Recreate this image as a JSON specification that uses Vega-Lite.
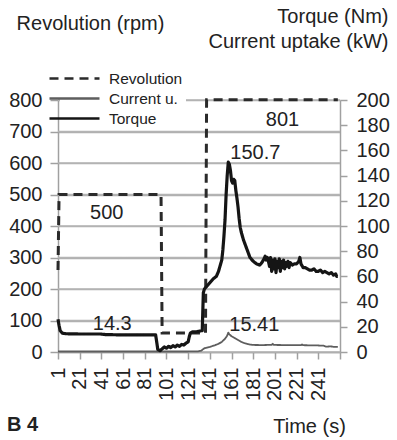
{
  "$schema": "https://vega.github.io/schema/vega-lite/v6.json",
  "width": 282,
  "height": 252,
  "autosize": "none",
  "padding": {"left": 58, "top": 100, "right": 57, "bottom": 88},
  "title": {"text": "B 4", "orient": "bottom", "anchor": "start", "frame": "group", "fontSize": 20, "fontWeight": "bold", "color": "#222", "dx": -51, "dy": -25},
  "datasets": {
    "series": [
      {"t": 1, "v": 260, "s": "Revolution"},
      {"t": 2, "v": 500, "s": "Revolution"},
      {"t": 96, "v": 500, "s": "Revolution"},
      {"t": 97, "v": 60, "s": "Revolution"},
      {"t": 137, "v": 60, "s": "Revolution"},
      {"t": 138, "v": 801, "s": "Revolution"},
      {"t": 259, "v": 801, "s": "Revolution"},

      {"t": 1, "v": 26, "s": "Torque"},
      {"t": 2, "v": 21, "s": "Torque"},
      {"t": 3, "v": 17, "s": "Torque"},
      {"t": 5, "v": 15, "s": "Torque"},
      {"t": 8, "v": 14.5, "s": "Torque"},
      {"t": 20, "v": 14.3, "s": "Torque"},
      {"t": 40, "v": 14.3, "s": "Torque"},
      {"t": 45, "v": 13.8, "s": "Torque"},
      {"t": 60, "v": 13.6, "s": "Torque"},
      {"t": 80, "v": 13.6, "s": "Torque"},
      {"t": 91, "v": 13.6, "s": "Torque"},
      {"t": 92, "v": 8, "s": "Torque"},
      {"t": 93, "v": 2, "s": "Torque"},
      {"t": 95, "v": 1, "s": "Torque"},
      {"t": 97, "v": 2.5, "s": "Torque"},
      {"t": 99, "v": 4, "s": "Torque"},
      {"t": 101, "v": 3, "s": "Torque"},
      {"t": 103, "v": 4.5, "s": "Torque"},
      {"t": 105, "v": 3.5, "s": "Torque"},
      {"t": 107, "v": 5, "s": "Torque"},
      {"t": 109, "v": 4, "s": "Torque"},
      {"t": 111, "v": 5.5, "s": "Torque"},
      {"t": 113, "v": 4.5, "s": "Torque"},
      {"t": 115, "v": 6, "s": "Torque"},
      {"t": 117, "v": 5.5, "s": "Torque"},
      {"t": 119, "v": 7, "s": "Torque"},
      {"t": 121, "v": 8, "s": "Torque"},
      {"t": 122, "v": 12, "s": "Torque"},
      {"t": 123, "v": 15, "s": "Torque"},
      {"t": 125, "v": 16, "s": "Torque"},
      {"t": 128, "v": 16, "s": "Torque"},
      {"t": 131, "v": 16.5, "s": "Torque"},
      {"t": 134, "v": 17, "s": "Torque"},
      {"t": 135, "v": 47, "s": "Torque"},
      {"t": 136, "v": 50, "s": "Torque"},
      {"t": 138, "v": 52, "s": "Torque"},
      {"t": 141, "v": 55, "s": "Torque"},
      {"t": 144, "v": 58, "s": "Torque"},
      {"t": 147, "v": 60, "s": "Torque"},
      {"t": 149, "v": 64, "s": "Torque"},
      {"t": 150, "v": 67, "s": "Torque"},
      {"t": 151, "v": 70, "s": "Torque"},
      {"t": 152, "v": 73, "s": "Torque"},
      {"t": 153, "v": 81, "s": "Torque"},
      {"t": 154, "v": 92, "s": "Torque"},
      {"t": 155, "v": 105, "s": "Torque"},
      {"t": 156, "v": 125, "s": "Torque"},
      {"t": 157, "v": 140, "s": "Torque"},
      {"t": 158, "v": 150.7, "s": "Torque"},
      {"t": 159, "v": 149, "s": "Torque"},
      {"t": 160, "v": 144, "s": "Torque"},
      {"t": 161, "v": 136, "s": "Torque"},
      {"t": 162, "v": 134, "s": "Torque"},
      {"t": 163, "v": 137, "s": "Torque"},
      {"t": 164, "v": 136, "s": "Torque"},
      {"t": 165, "v": 128, "s": "Torque"},
      {"t": 166, "v": 122, "s": "Torque"},
      {"t": 167, "v": 115, "s": "Torque"},
      {"t": 168, "v": 106, "s": "Torque"},
      {"t": 169, "v": 99, "s": "Torque"},
      {"t": 170, "v": 95, "s": "Torque"},
      {"t": 172, "v": 89, "s": "Torque"},
      {"t": 175, "v": 82, "s": "Torque"},
      {"t": 178, "v": 75, "s": "Torque"},
      {"t": 181, "v": 72, "s": "Torque"},
      {"t": 184, "v": 70, "s": "Torque"},
      {"t": 187, "v": 69, "s": "Torque"},
      {"t": 189, "v": 71, "s": "Torque"},
      {"t": 191, "v": 74, "s": "Torque"},
      {"t": 192, "v": 76, "s": "Torque"},
      {"t": 193, "v": 73, "s": "Torque"},
      {"t": 194, "v": 75, "s": "Torque"},
      {"t": 195, "v": 72, "s": "Torque"},
      {"t": 196, "v": 68, "s": "Torque"},
      {"t": 197, "v": 75, "s": "Torque"},
      {"t": 198, "v": 64, "s": "Torque"},
      {"t": 199, "v": 73, "s": "Torque"},
      {"t": 200, "v": 66, "s": "Torque"},
      {"t": 201, "v": 74, "s": "Torque"},
      {"t": 202, "v": 63, "s": "Torque"},
      {"t": 203, "v": 72, "s": "Torque"},
      {"t": 204, "v": 67, "s": "Torque"},
      {"t": 205, "v": 74, "s": "Torque"},
      {"t": 206, "v": 64, "s": "Torque"},
      {"t": 207, "v": 72, "s": "Torque"},
      {"t": 208, "v": 67, "s": "Torque"},
      {"t": 209, "v": 73, "s": "Torque"},
      {"t": 210, "v": 66, "s": "Torque"},
      {"t": 211, "v": 71, "s": "Torque"},
      {"t": 212, "v": 68, "s": "Torque"},
      {"t": 213, "v": 72, "s": "Torque"},
      {"t": 214, "v": 67, "s": "Torque"},
      {"t": 215, "v": 71, "s": "Torque"},
      {"t": 217, "v": 69, "s": "Torque"},
      {"t": 219, "v": 70, "s": "Torque"},
      {"t": 221, "v": 70, "s": "Torque"},
      {"t": 223, "v": 72, "s": "Torque"},
      {"t": 224, "v": 75, "s": "Torque"},
      {"t": 225, "v": 70, "s": "Torque"},
      {"t": 227, "v": 67, "s": "Torque"},
      {"t": 229, "v": 67, "s": "Torque"},
      {"t": 231, "v": 66, "s": "Torque"},
      {"t": 233, "v": 65, "s": "Torque"},
      {"t": 235, "v": 65, "s": "Torque"},
      {"t": 237, "v": 66, "s": "Torque"},
      {"t": 239, "v": 64, "s": "Torque"},
      {"t": 241, "v": 64, "s": "Torque"},
      {"t": 243, "v": 65, "s": "Torque"},
      {"t": 245, "v": 63, "s": "Torque"},
      {"t": 247, "v": 64, "s": "Torque"},
      {"t": 249, "v": 63, "s": "Torque"},
      {"t": 251, "v": 62, "s": "Torque"},
      {"t": 253, "v": 63, "s": "Torque"},
      {"t": 255, "v": 61, "s": "Torque"},
      {"t": 257, "v": 62, "s": "Torque"},
      {"t": 258, "v": 60, "s": "Torque"},
      {"t": 259, "v": 60, "s": "Torque"},

      {"t": 1, "v": 0.4, "s": "Current u."},
      {"t": 60, "v": 0.4, "s": "Current u."},
      {"t": 120, "v": 0.4, "s": "Current u."},
      {"t": 130, "v": 0.5, "s": "Current u."},
      {"t": 133, "v": 1, "s": "Current u."},
      {"t": 136, "v": 3, "s": "Current u."},
      {"t": 141, "v": 4, "s": "Current u."},
      {"t": 146, "v": 5.5, "s": "Current u."},
      {"t": 149, "v": 6.5, "s": "Current u."},
      {"t": 152, "v": 8, "s": "Current u."},
      {"t": 155, "v": 10.5, "s": "Current u."},
      {"t": 157, "v": 13, "s": "Current u."},
      {"t": 158, "v": 15.41, "s": "Current u."},
      {"t": 159, "v": 14, "s": "Current u."},
      {"t": 161, "v": 12.5, "s": "Current u."},
      {"t": 164, "v": 11, "s": "Current u."},
      {"t": 167, "v": 9.5, "s": "Current u."},
      {"t": 170, "v": 8, "s": "Current u."},
      {"t": 173, "v": 7, "s": "Current u."},
      {"t": 176, "v": 6.3, "s": "Current u."},
      {"t": 180, "v": 5.6, "s": "Current u."},
      {"t": 190, "v": 5.5, "s": "Current u."},
      {"t": 198, "v": 5.7, "s": "Current u."},
      {"t": 199, "v": 6.5, "s": "Current u."},
      {"t": 200, "v": 5.6, "s": "Current u."},
      {"t": 210, "v": 5.5, "s": "Current u."},
      {"t": 225, "v": 5.4, "s": "Current u."},
      {"t": 226, "v": 6, "s": "Current u."},
      {"t": 227, "v": 5.4, "s": "Current u."},
      {"t": 240, "v": 5.2, "s": "Current u."},
      {"t": 246, "v": 5, "s": "Current u."},
      {"t": 248, "v": 4.2, "s": "Current u."},
      {"t": 252, "v": 4.5, "s": "Current u."},
      {"t": 256, "v": 4, "s": "Current u."},
      {"t": 259, "v": 4, "s": "Current u."}
    ],
    "labels": [
      {"label": "500", "t": 46, "v": 110},
      {"label": "801", "t": 208, "v": 184},
      {"label": "150.7", "t": 183, "v": 158},
      {"label": "14.3", "t": 51, "v": 22},
      {"label": "15.41", "t": 182, "v": 21.5}
    ],
    "gridlines": [
      {"g": 0}, {"g": 100}, {"g": 200}, {"g": 300}, {"g": 400}, {"g": 500}, {"g": 600}, {"g": 700}, {"g": 800}
    ]
  },
  "encoding": {
    "x": {"field": "t", "type": "quantitative",
      "scale": {"domain": [1, 261], "nice": false, "zero": false},
      "axis": {"values": [1, 21, 41, 61, 81, 101, 121, 141, 161, 181, 201, 221, 241, 261],
        "labelExpr": "datum.value == 261 ? '' : datum.label",
        "labelAngle": -90, "tickSize": 7, "labelPadding": 8, "grid": false,
        "domainColor": "#a0a0a0", "tickColor": "#a0a0a0", "domainWidth": 1.5, "tickWidth": 1.5,
        "title": "Time (s)", "titleX": 251, "titleY": 80, "titleAlign": "center", "titleBaseline": "alphabetic"}},
    "color": {"field": "s", "type": "nominal",
      "scale": {"domain": ["Revolution", "Current u.", "Torque"], "range": ["#2a2a2a", "#5e5e5e", "#151515"]},
      "legend": {"title": null, "orient": "none", "legendX": 2, "legendY": -36}},
    "strokeDash": {"field": "s", "type": "nominal",
      "scale": {"domain": ["Revolution", "Current u.", "Torque"], "range": [[9, 6], [1, 0], [1, 0]]},
      "legend": {"title": null, "orient": "none", "legendX": 2, "legendY": -36}}
  },
  "layer": [
    {
      "data": {"name": "gridlines"},
      "mark": {"type": "rule", "color": "#b4b4b4", "strokeWidth": 1.5},
      "encoding": {
        "x": {"value": 0},
        "x2": {"value": 282},
        "y": {"field": "g", "type": "quantitative", "scale": {"domain": [0, 800], "nice": false}, "axis": null},
        "color": {"value": "#b4b4b4"},
        "strokeDash": {"value": [1, 0]}
      }
    },
    {
      "data": {"name": "series"},
      "transform": [{"filter": "datum.s === 'Revolution'"}],
      "mark": {"type": "line", "strokeWidth": 3, "strokeCap": "butt"},
      "encoding": {
        "y": {"field": "v", "type": "quantitative",
          "scale": {"domain": [0, 800], "nice": false},
          "axis": {"orient": "left", "values": [0, 100, 200, 300, 400, 500, 600, 700, 800], "grid": true,
            "domainColor": "#a0a0a0", "tickColor": "#a0a0a0", "gridColor": "#b0b0b0", "domainWidth": 1.5, "tickWidth": 1.5, "gridWidth": 1.5,
            "tickSize": 8, "labelPadding": 8,
            "title": "Revolution (rpm)", "titleAngle": 0, "titleX": 32, "titleY": -71, "titleAlign": "center", "titleBaseline": "alphabetic"}}
      }
    },
    {
      "encoding": {
        "y": {"field": "v", "type": "quantitative",
          "scale": {"domain": [0, 200], "nice": false},
          "axis": {"orient": "right", "values": [0, 20, 40, 60, 80, 100, 120, 140, 160, 180, 200], "grid": false,
            "domainColor": "#a0a0a0", "tickColor": "#a0a0a0", "domainWidth": 1.5, "tickWidth": 1.5,
            "tickSize": 7, "labelPadding": 9,
            "title": ["Torque (Nm)", "Current uptake (kW)"], "titleAngle": 0, "titleX": 48, "titleY": -78,
            "titleAlign": "right", "titleBaseline": "alphabetic", "titleLineHeight": 25}}
      },
      "layer": [
        {
          "data": {"name": "series"},
          "transform": [{"filter": "datum.s === 'Current u.'"}],
          "mark": {"type": "line", "strokeWidth": 1.8, "strokeJoin": "round"}
        },
        {
          "data": {"name": "series"},
          "transform": [{"filter": "datum.s === 'Torque'"}],
          "mark": {"type": "line", "strokeWidth": 3.2, "strokeJoin": "round"}
        },
        {
          "data": {"name": "labels"},
          "mark": {"type": "text", "align": "center", "baseline": "middle", "fontSize": 20, "color": "#222"},
          "encoding": {
            "text": {"field": "label"},
            "color": {"value": "#222"},
            "strokeDash": {"value": [1, 0]}
          }
        }
      ]
    }
  ],
  "resolve": {"scale": {"y": "independent"}},
  "config": {
    "font": "Liberation Sans",
    "view": {"stroke": null},
    "axis": {"labelFontSize": 20, "titleFontSize": 20, "labelColor": "#222", "titleColor": "#222", "titleFontWeight": "normal",
      "labelFont": "Liberation Sans", "titleFont": "Liberation Sans", "labelOverlap": false},
    "legend": {"symbolType": "M-2.5,0H2.5", "symbolSize": 400, "symbolStrokeWidth": 2.6, "labelFontSize": 15.5, "labelColor": "#222", "labelFont": "Liberation Sans",
      "labelOffset": 23, "rowPadding": 0, "fillColor": "white", "padding": 3}
  }
}
